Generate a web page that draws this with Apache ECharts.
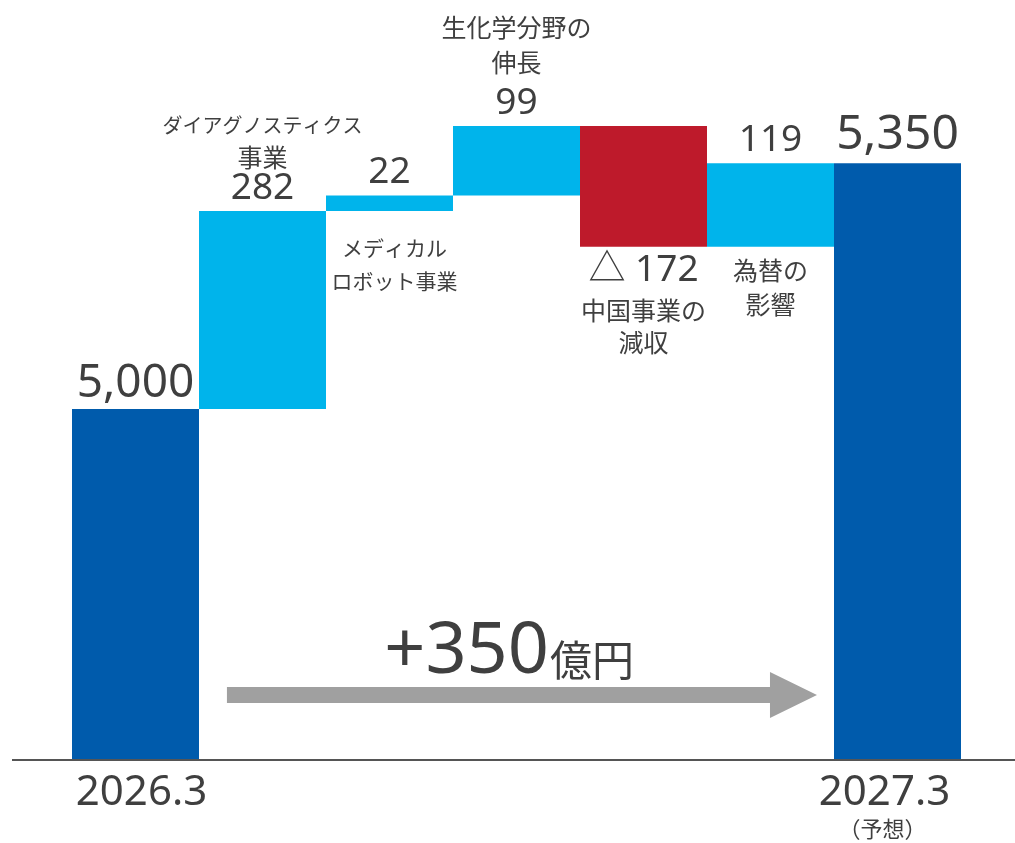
<!DOCTYPE html>
<html>
<head>
<meta charset="utf-8">
<script src="https://cdn.jsdelivr.net/npm/echarts@6/dist/echarts.min.js"></script>
<style>
  html, body { margin: 0; padding: 0; background: #ffffff; }
  #main { width: 1015px; height: 843px; }
</style>
</head>
<body>
<div id="main"></div>
<script>
// 売上高の増減要因（億円）
const categories = ['2026.3', 'ダイアグノスティクス事業', 'メディカルロボット事業', '生化学分野の伸長', '中国事業の減収', '為替の影響', '2027.3'];
const startValue = 5000;
const changes = [282, 22, 99, -172, 119];
const endValue = 5350;
const axisLabels = ['2026.3', '', '', '', '', '', '2027.3'];
const forecastNote = '（予想）';
const factorLines = [
  ['ダイアグノスティクス', '事業'],
  ['メディカル', 'ロボット事業'],
  ['生化学分野の', '伸長'],
  ['中国事業の', '減収'],
  ['為替の', '影響']
];
const unit = '億円';
const yMin = 4500;
const yMax = 5500;

const LATIN = "'Noto Sans', 'Noto Sans CJK JP', sans-serif";
const CJK = "'Noto Sans CJK JP', sans-serif";
const TEXT = '#3f3f3f';
const C_TOTAL = '#005bac';
const C_UP = '#00b4eb';
const C_DOWN = '#be1a2b';

const fmt = v => v.toLocaleString('en-US');

// invisible base + visible segment for each step of the waterfall
const baseVals = [0];
const segVals = [startValue];
let running = startValue;
changes.forEach(c => {
  if (c >= 0) { baseVals.push(running); segVals.push(c); }
  else { baseVals.push(running + c); segVals.push(-c); }
  running += c;
});
baseVals.push(0);
segVals.push(endValue);

const rich = {
  v: { fontFamily: LATIN, fontSize: 37, lineHeight: 30, color: TEXT },
  w: { fontFamily: LATIN, fontSize: 37, lineHeight: 46, color: TEXT },
  m: { fontFamily: LATIN, fontSize: 37, lineHeight: 48, color: TEXT },
  k: { fontFamily: CJK, fontSize: 20, lineHeight: 32, color: TEXT },
  k2: { fontFamily: CJK, fontSize: 21, lineHeight: 33, color: TEXT },
  j: { fontFamily: CJK, fontSize: 25, lineHeight: 32, color: TEXT },
  jj: { fontFamily: CJK, fontSize: 25, lineHeight: 35, color: TEXT },
  jb: { fontFamily: CJK, fontSize: 25, lineHeight: 32, color: TEXT },
  jc: { fontFamily: CJK, fontSize: 25, lineHeight: 34, color: TEXT }
};

function topLabel(text, distance, extra) {
  return Object.assign({ show: true, position: 'top', distance: distance, formatter: text, rich: rich, color: TEXT, overflow: 'none' }, extra || {});
}
function belowLabel(text, distance, offset) {
  return { show: true, position: 'insideTop', distance: distance, offset: offset || [0, 0], formatter: text, rich: rich, color: TEXT, overflow: 'none' };
}

const segData = segVals.map((v, i) => {
  const item = { value: v, itemStyle: { color: C_TOTAL } };
  if (i === 0 || i === segVals.length - 1) {
    const big = i === 0 ? 46 : 48;
    item.label = topLabel(fmt(v), i === 0 ? 2 : 4, { fontFamily: LATIN, fontSize: big, lineHeight: big });
    return item;
  }
  const c = changes[i - 1];
  item.itemStyle = { color: c >= 0 ? C_UP : C_DOWN };
  const [l1, l2] = factorLines[i - 1];
  if (i === 1) item.label = topLabel('{k|' + l1 + '}\n{j|' + l2 + '}\n{v|' + fmt(c) + '}', 8);
  else if (i === 3) item.label = topLabel('{jj|' + l1 + '}\n{jj|' + l2 + '}\n{w|' + fmt(c) + '}', 0);
  else if (c >= 0) item.label = topLabel('{v|' + fmt(c) + '}', 8);
  return item;
});

const baseData = baseVals.map((v, i) => {
  const item = { value: v };
  if (i === 2) {
    const [l1, l2] = factorLines[1];
    item.label = belowLabel('{k2|' + l1 + '}\n{k2|' + l2 + '}', 20, [5, 0]);
  } else if (i === 4) {
    const [l1, l2] = factorLines[3];
    item.label = belowLabel('{m|△ ' + fmt(-changes[3]) + '}\n{jb|' + l1 + '}\n{jb|' + l2 + '}', 0);
  } else if (i === 5) {
    const [l1, l2] = factorLines[4];
    item.label = belowLabel('{jc|' + l1 + '}\n{jc|' + l2 + '}', 7);
  }
  return item;
});

const chart = echarts.init(document.getElementById('main'), null, { renderer: 'canvas' });

chart.setOption({
  animation: false,
  backgroundColor: '#ffffff',
  grid: { left: 72, right: 54, top: 58, bottom: 83, outerBoundsMode: 'none' },
  xAxis: {
    type: 'category',
    data: categories,
    axisLine: { show: false },
    axisTick: { show: false },
    axisLabel: {
      interval: 0,
      margin: 12,
      formatter: (val, idx) => {
        const t = axisLabels[idx];
        if (!t) return '';
        if (idx === categories.length - 1) return '{b|' + t + '}\n{c|' + forecastNote + '}';
        return '{a|' + t + '}';
      },
      rich: {
        a: { fontFamily: LATIN, fontSize: 42, lineHeight: 42, color: TEXT, padding: [0, 0, 0, 12] },
        b: { fontFamily: LATIN, fontSize: 42, lineHeight: 42, color: TEXT, padding: [0, 26, 0, 0] },
        c: { fontFamily: CJK, fontSize: 22, lineHeight: 30, color: TEXT, padding: [0, 30, 0, 0] }
      }
    }
  },
  yAxis: { type: 'value', min: yMin, max: yMax, show: false },
  series: [
    {
      name: 'base', type: 'bar', stack: 'w', silent: true,
      barCategoryGap: '0%',
      itemStyle: { color: 'rgba(0,0,0,0)' },
      emphasis: { disabled: true },
      data: baseData
    },
    {
      name: 'change', type: 'bar', stack: 'w', silent: true,
      barCategoryGap: '0%',
      emphasis: { disabled: true },
      data: segData
    }
  ]
});

// baseline, overall-change arrow and its caption, placed from the axes
const y0 = chart.convertToPixel({ yAxisIndex: 0 }, yMin);
const xs = categories.map(c => chart.convertToPixel({ xAxisIndex: 0 }, c));
const band = xs[1] - xs[0];
const shaftLeft = xs[1] - band * 0.28;
const tipX = xs[xs.length - 1] - band * 0.634;
const headX = tipX - 47;
const arrowY = y0 - 65;
const half = 8, headHalf = 23;
const split = (shaftLeft + tipX) / 2 + 27;
const diff = endValue - startValue;

chart.setOption({
  graphic: [
    {
      type: 'line', z: 100, silent: true,
      shape: { x1: 12, y1: y0, x2: 1015, y2: y0 },
      style: { stroke: '#555555', lineWidth: 2 }
    },
    {
      type: 'polygon', z: 100, silent: true,
      shape: {
        points: [
          [shaftLeft, arrowY - half], [headX, arrowY - half], [headX, arrowY - headHalf],
          [tipX, arrowY], [headX, arrowY + headHalf], [headX, arrowY + half], [shaftLeft, arrowY + half]
        ]
      },
      style: { fill: '#a0a0a0' }
    },
    {
      type: 'text', z: 100, silent: true,
      style: {
        text: (diff >= 0 ? '+' : '') + fmt(diff), x: split, y: y0 - 72,
        align: 'right', verticalAlign: 'bottom',
        font: "72px 'Noto Sans'", fill: TEXT
      }
    },
    {
      type: 'text', z: 100, silent: true,
      style: {
        text: unit, x: split + 1, y: y0 - 79,
        align: 'left', verticalAlign: 'bottom',
        font: "42px 'Noto Sans CJK JP'", fill: TEXT
      }
    }
  ]
});
</script>
</body>
</html>
